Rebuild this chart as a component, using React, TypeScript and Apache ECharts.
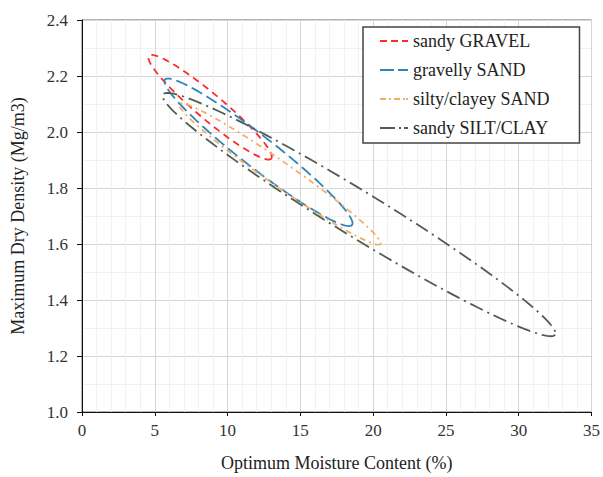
import React, { useEffect, useRef } from "react";
import * as echarts from "echarts";

// Envelope of each soil group: [upper-left tip moisture %, tip density, lower-right tip moisture %, tip density, half-thickness (Mg/m3)]
const seriesNames = ["sandy GRAVEL", "gravelly SAND", "silty/clayey SAND", "sandy SILT/CLAY"];
const sandyGravel = [4.6, 2.272, 13.0, 1.905, 0.046];
const gravellySand = [5.7, 2.187, 18.55, 1.668, 0.057];
const siltyClayeySand = [6.7, 2.1, 20.5, 1.6, 0.043];
const sandySiltClay = [5.56, 2.134, 32.5, 1.276, 0.081];
const envelopes = [sandyGravel, gravellySand, siltyClayeySand, sandySiltClay];

const xMin = 0;
const xMax = 35;
const xStep = 5;
const yMin = 1.0;
const yMax = 2.4;
const yStep = 0.2;

const colors = ["#ff2a2a", "#2f86b8", "#f3ad6a", "#4f5f4f"];
const dashes = [
  [7, 5],
  [12, 5],
  [6, 4, 2, 4],
  [14, 5, 2, 5],
];
const icons = [
  "path://M0,0h7v2h-7z M11,0h7v2h-7z M22,0h6v2h-6z",
  "path://M0,0h14v2h-14z M18,0h10v2h-10z",
  "path://M0,0h6v2h-6z M9,0h2v2h-2z M14,0h6v2h-6z M23,0h2v2h-2z M26,0h2v2h-2z",
  "path://M0,0h15v2h-15z M19,0h2v2h-2z M24,0h4v2h-4z",
];

const FONT = '"Liberation Serif", "Times New Roman", serif';

function makeRender(idx: number) {
  return (params: any, api: any) => {
    const a = api.coord([api.value(0), api.value(1)]);
    const b = api.coord([api.value(2), api.value(3)]);
    const o = api.coord([0, yMin]);
    const h = api.coord([0, yMin + api.value(4)]);
    const minor = Math.abs(o[1] - h[1]);
    const cx = (a[0] + b[0]) / 2;
    const cy = (a[1] + b[1]) / 2;
    const dx = (b[0] - a[0]) / 2;
    const dy = (b[1] - a[1]) / 2;
    const major = Math.hypot(dx, dy);
    const ux = dx / major;
    const uy = dy / major;
    const vx = -uy;
    const vy = ux;
    const pts: number[][] = [];
    const n = 160;
    for (let i = 0; i < n; i++) {
      const t = (i / n) * Math.PI * 2;
      const c = Math.cos(t) * major;
      const s = Math.sin(t) * minor;
      pts.push([cx + c * ux + s * vx, cy + c * uy + s * vy]);
    }
    return {
      type: "polygon",
      shape: { points: pts },
      style: {
        fill: "none",
        stroke: colors[idx],
        lineWidth: 1.8,
        lineDash: dashes[idx],
      },
    };
  };
}

export default function App() {
  const ref = useRef<HTMLDivElement>(null);
  useEffect(() => {
    if (!ref.current) return;
    const chart = echarts.init(ref.current, undefined, { renderer: "svg" });
    chart.setOption({
      animation: false,
      backgroundColor: "#ffffff",
      grid: {
        left: 82,
        right: 11,
        top: 20,
        bottom: 62,
        show: true,
        borderColor: "#666",
        borderWidth: 1,
      },
      legend: {
        orient: "vertical",
        left: 363,
        top: 27,
        itemWidth: 28,
        itemHeight: 2,
        itemGap: 11,
        padding: [5, 30, 6, 17],
        borderColor: "#444",
        borderWidth: 1.5,
        backgroundColor: "#fff",
        selectedMode: false,
        textStyle: { fontFamily: FONT, fontSize: 18, color: "#222" },
        data: seriesNames.map((n, i) => ({ name: n, icon: icons[i], itemStyle: { color: colors[i] } })),
      },
      xAxis: {
        type: "value",
        min: xMin,
        max: xMax,
        interval: xStep,
        name: "Optimum Moisture Content (%)",
        nameLocation: "middle",
        nameGap: 42,
        nameTextStyle: { fontFamily: FONT, fontSize: 18, color: "#222" },
        axisLine: { lineStyle: { color: "#111", width: 1 } },
        axisTick: { show: true, inside: false, length: 4, lineStyle: { color: "#111" } },
        axisLabel: { fontFamily: FONT, fontSize: 17, color: "#333", margin: 10 },
        splitLine: { show: true, lineStyle: { color: "#d6d6d6", width: 1 } },
        minorTick: { show: false, splitNumber: 5 },
        minorSplitLine: { show: true, lineStyle: { color: "#f1f1f1", width: 1 } },
      },
      yAxis: {
        type: "value",
        min: yMin,
        max: yMax,
        interval: yStep,
        name: "Maximum Dry Density (Mg/m3)",
        nameLocation: "middle",
        nameGap: 55,
        nameTextStyle: { fontFamily: FONT, fontSize: 18, color: "#222" },
        axisLine: { show: true, lineStyle: { color: "#111", width: 1 } },
        axisTick: { show: true, inside: false, length: 5, lineStyle: { color: "#111" } },
        axisLabel: {
          fontFamily: FONT,
          fontSize: 17,
          color: "#333",
          margin: 14,
          formatter: (v: number) => v.toFixed(1),
        },
        splitLine: { show: true, lineStyle: { color: "#d6d6d6", width: 1 } },
        minorTick: { show: false, splitNumber: 2 },
        minorSplitLine: { show: true, lineStyle: { color: "#f1f1f1", width: 1 } },
      },
      series: envelopes.map((env, i) => ({
        type: "custom",
        name: seriesNames[i],
        data: [env],
        encode: { x: [0, 2], y: [1, 3] },
        itemStyle: { color: colors[i] },
        renderItem: makeRender(i),
        z: 2 + i,
      })),
    });
    return () => chart.dispose();
  }, []);
  return (
    <div
      ref={ref}
      style={{ position: "absolute", left: 0, top: 0, width: 603, height: 477 }}
    />
  );
}
